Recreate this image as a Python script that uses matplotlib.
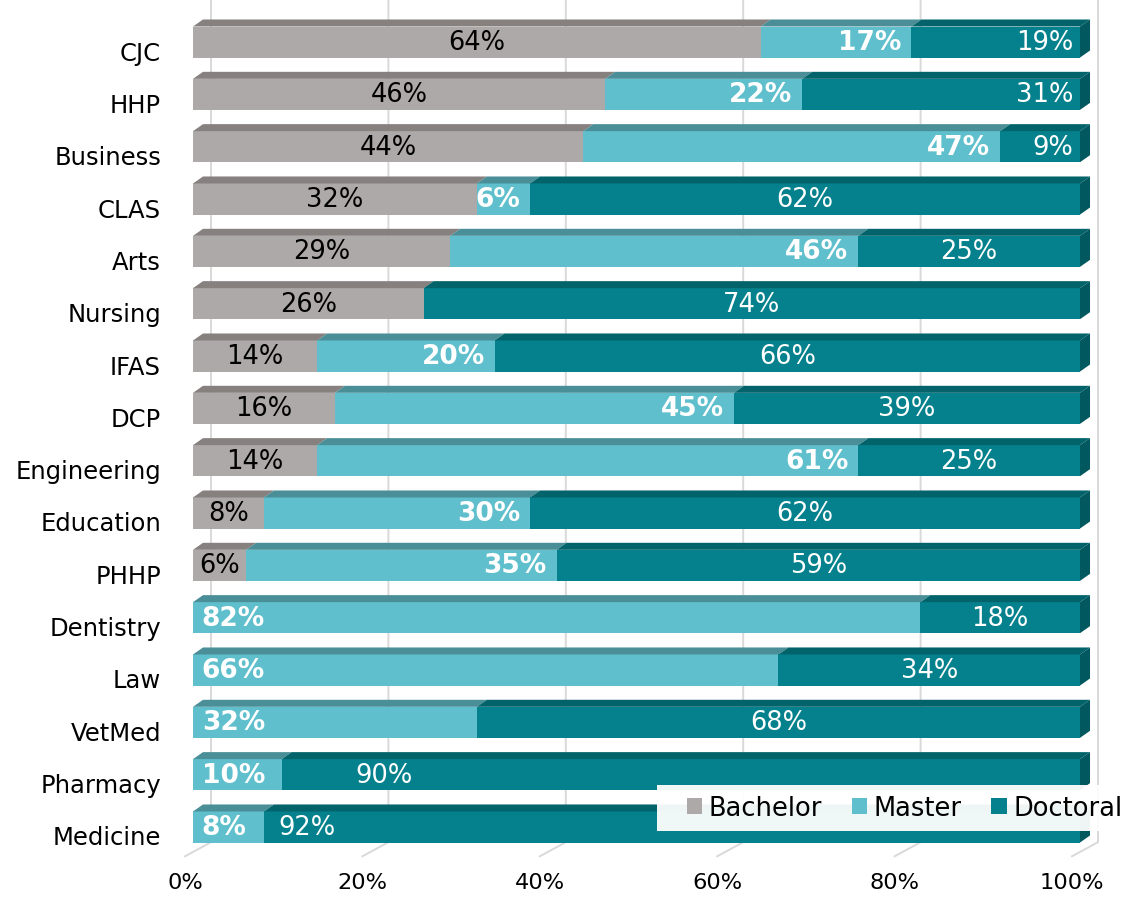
import matplotlib
matplotlib.use("Agg")
import matplotlib.pyplot as plt
from matplotlib.patches import Polygon, Rectangle
from matplotlib.transforms import ScaledTranslation

# --- data (share of degrees by level, %) -----------------------------------
colleges = ["CJC", "HHP", "Business", "CLAS", "Arts", "Nursing", "IFAS", "DCP",
            "Engineering", "Education", "PHHP", "Dentistry", "Law", "VetMed",
            "Pharmacy", "Medicine"]
bachelor = [64, 46, 44, 32, 29, 26, 14, 16, 14, 8, 6, 0, 0, 0, 0, 0]
master = [17, 22, 47, 6, 46, 0, 20, 45, 61, 30, 35, 82, 66, 32, 10, 8]
doctoral = [19, 31, 9, 62, 25, 74, 66, 39, 25, 62, 59, 18, 34, 68, 90, 92]
levels = ["Bachelor", "Master", "Doctoral"]
x_ticks = [0, 20, 40, 60, 80, 100]

# --- style ------------------------------------------------------------------
FRONT = ["#ADA9A8", "#5FBFCC", "#04818C"]
TOP = ["#86807F", "#4A8F98", "#03636B"]
SIDE = "#02585F"
GRID = "#D9D9D9"
W, H = 1125, 903
PX_X = 8.87      # pixels per percent
BAR_H = 0.593    # front face height (rows)
DX, DY = 1.13, 0.134   # depth of the 3-D faces
# doctoral labels placed at the end / moved off-centre in the original
doc_end = {"CJC", "HHP", "Business"}
doc_left = {"Pharmacy": 18.3, "Medicine": 9.6}

fig = plt.figure(figsize=(W / 100, H / 100), dpi=100)
ax = fig.add_axes([193 / W, 1 - 862 / H, 932 / W, 862 / H])
ax.set_xlim(0, 932 / PX_X)
ax.set_ylim(15.65, -0.822)
for s in ax.spines.values():
    s.set_visible(False)

# back-wall gridlines with the slanted floor edge
for v in x_ticks:
    ax.plot([v - 0.9, v + 2.03, v + 2.03], [15.56, 15.29, -0.822],
            color=GRID, lw=1.4, zorder=0, clip_on=False)

y = list(range(len(colleges)))
series = [bachelor, master, doctoral]
totals = [b + m + d for b, m, d in zip(bachelor, master, doctoral)]
lefts = [0.0] * len(colleges)
handles = []
for k, vals in enumerate(series):
    widths = [100 * v / t for v, t in zip(vals, totals)]
    bars = ax.barh(y, widths, left=lefts, height=BAR_H, color=FRONT[k],
                   label=levels[k], zorder=2)
    handles.append(bars)
    for i, (l, w) in enumerate(zip(lefts, widths)):
        if w <= 0:
            continue
        top = i - BAR_H / 2
        ax.add_patch(Polygon([(l, top), (l + DX, top - DY), (l + w + DX, top - DY),
                              (l + w, top)], closed=True, color=TOP[k], lw=0, zorder=2))
        if k == 2:
            bot = i + BAR_H / 2
            ax.add_patch(Polygon([(l + w, top), (l + w + DX, top - DY),
                                  (l + w + DX, bot - DY), (l + w, bot)],
                                 closed=True, color=SIDE, lw=0, zorder=2))
        name = colleges[i]
        txt = f"{vals[i]}%"
        if k == 0:
            ax.text(l + w / 2, i, txt, ha="center", va="center", fontsize=18.5,
                    color="black", zorder=3)
        elif k == 1:
            if bachelor[i] > 0:
                ax.text(l + w - 1.1, i, txt, ha="right", va="center", fontsize=19,
                        fontweight="bold", color="white", zorder=3)
            else:
                ax.text(l + 1.0, i, txt, ha="left", va="center", fontsize=19,
                        fontweight="bold", color="white", zorder=3)
        else:
            if name in doc_end:
                ax.text(l + w - 0.8, i, txt, ha="right", va="center", fontsize=18.5,
                        color="white", zorder=3)
            elif name in doc_left:
                ax.text(doc_left[name], i, txt, ha="left", va="center", fontsize=18.5,
                        color="white", zorder=3)
            else:
                ax.text(l + w / 2, i, txt, ha="center", va="center", fontsize=18.5,
                        color="white", zorder=3)
    lefts = [l + w for l, w in zip(lefts, widths)]

# axis labels
ax.set_yticks(y, colleges, fontsize=17.5)
ax.set_xticks(x_ticks, [f"{v}%" for v in x_ticks], fontsize=16.2)
ax.tick_params(axis="y", length=0, pad=23)
ax.tick_params(axis="x", length=0, pad=8)
for lbl in ax.get_yticklabels():
    lbl.set_transform(lbl.get_transform() + ScaledTranslation(0, -8 / 100, fig.dpi_scale_trans))
for lbl in ax.get_xticklabels():
    lbl.set_transform(lbl.get_transform() + ScaledTranslation(-8 / 100, 0, fig.dpi_scale_trans))

# legend over the bottom bars
ax.add_patch(Rectangle((657 / W, 1 - 832 / H), (1122 - 657) / W, 46 / H,
                       transform=fig.transFigure, facecolor="white", alpha=0.94,
                       lw=0, zorder=8, clip_on=False))
leg = ax.legend(handles, levels, loc="center left",
                bbox_to_anchor=(687 / W, 1 - 809 / H), bbox_transform=fig.transFigure,
                frameon=False, ncol=3, fontsize=18.5, handlelength=0.6,
                handleheight=0.6, handletextpad=0.25, columnspacing=1.15,
                borderpad=0, borderaxespad=0)
leg.set_zorder(10)

fig.savefig("out.png", dpi=100)
